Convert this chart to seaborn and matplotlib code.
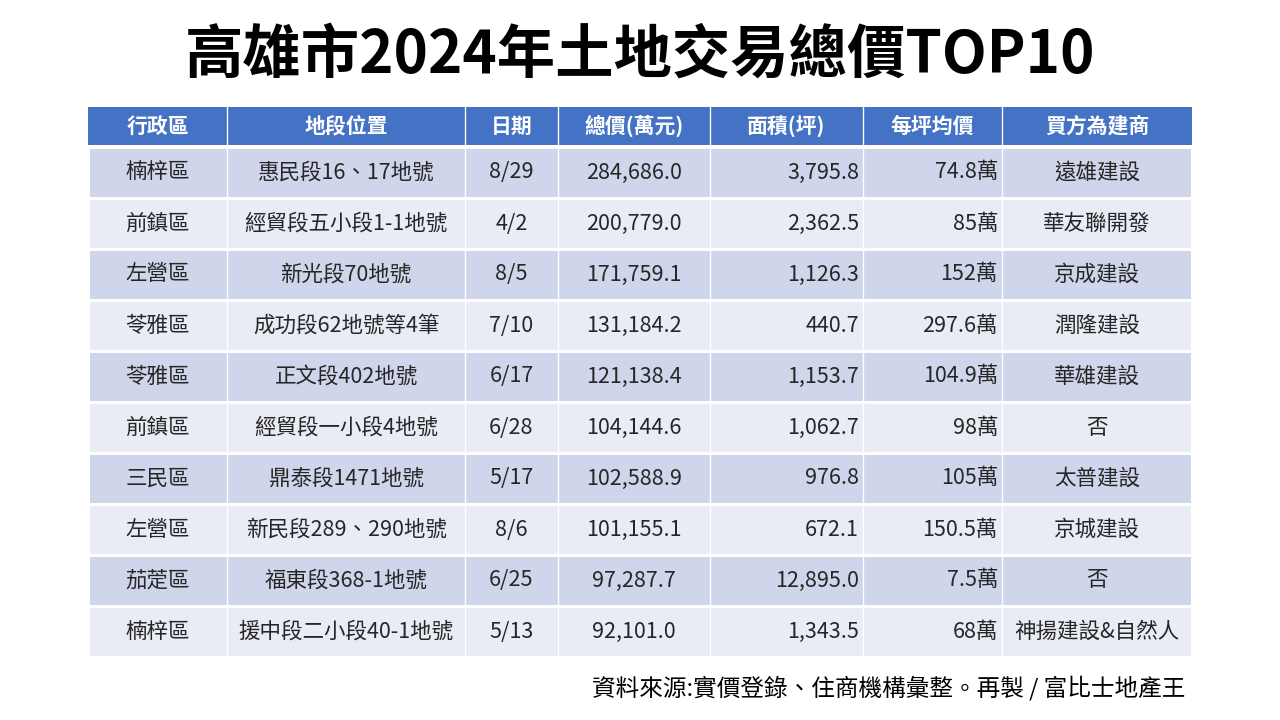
import numpy as np
import matplotlib.pyplot as plt
import seaborn as sns
from matplotlib.colors import ListedColormap

# table data
headers = ['行政區', '地段位置', '日期', '總價(萬元)', '面積(坪)', '每坪均價', '買方為建商']
districts = ['楠梓區', '前鎮區', '左營區', '苓雅區', '苓雅區', '前鎮區', '三民區', '左營區', '茄萣區', '楠梓區']
lots = ['惠民段16、17地號', '經貿段五小段1-1地號', '新光段70地號', '成功段62地號等4筆', '正文段402地號',
        '經貿段一小段4地號', '鼎泰段1471地號', '新民段289、290地號', '福東段368-1地號', '援中段二小段40-1地號']
dates = ['8/29', '4/2', '8/5', '7/10', '6/17', '6/28', '5/17', '8/6', '6/25', '5/13']
total_price = [284686.0, 200779.0, 171759.1, 131184.2, 121138.4, 104144.6, 102588.9, 101155.1, 97287.7, 92101.0]
area = [3795.8, 2362.5, 1126.3, 440.7, 1153.7, 1062.7, 976.8, 672.1, 12895.0, 1343.5]
unit_price = [74.8, 85, 152, 297.6, 104.9, 98, 105, 150.5, 7.5, 68]
buyers = ['遠雄建設', '華友聯開發', '京成建設', '潤隆建設', '華雄建設', '否', '太普建設', '京城建設', '否', '神揚建設&自然人']

sns.set_theme(style='white')
plt.rcParams['font.family'] = ['Noto Sans CJK TC', 'DejaVu Sans']

W, H = 1280, 720
fig = plt.figure(figsize=(12.8, 7.2), dpi=100)

def box(x0, y0, x1, y1):
    return [x0 / W, 1 - y1 / H, (x1 - x0) / W, (y1 - y0) / H]

# column edges in pixels, turned into fractions of the table width
col_px = [88, 227, 465, 558, 710, 863, 1002, 1192]
edges = [(c - col_px[0]) / (col_px[-1] - col_px[0]) for c in col_px]
aligns = ['center', 'center', 'center', 'center', 'right', 'right', 'center']
pad = 4 / (col_px[-1] - col_px[0])

# header band
ax_h = fig.add_axes(box(88, 107, 1192, 145))
sns.heatmap(np.zeros((1, 1)), cmap=ListedColormap(['#4472C4']), cbar=False, ax=ax_h)
ax_h.axis('off')
for e in edges[1:-1]:
    ax_h.axvline(e, color='white', lw=1)
for j, h in enumerate(headers):
    ax_h.text((edges[j] + edges[j + 1]) / 2, 0.5, h, ha='center', va='center',
              color='white', fontsize=15, fontweight='bold')

# body bands
n = len(districts)
bands = np.array([[i % 2] for i in range(n)])
ax_b = fig.add_axes(box(88, 147, 1192, 657))
sns.heatmap(bands, cmap=ListedColormap(['#CFD5EA', '#E9EBF5']), cbar=False,
            linewidths=1, linecolor='white', ax=ax_b)
ax_b.axis('off')
for e in edges[1:-1]:
    ax_b.axvline(e, color='white', lw=1)

for i in range(n):
    row = [districts[i], lots[i], dates[i], f'{total_price[i]:,.1f}', f'{area[i]:,.1f}',
           f'{unit_price[i]:g}萬', buyers[i]]
    for j, val in enumerate(row):
        if aligns[j] == 'right':
            x = edges[j + 1] - pad
        else:
            x = (edges[j] + edges[j + 1]) / 2
        ax_b.text(x, i + 0.5, val, ha=aligns[j], va='center', color='#262626', fontsize=15.5)

fig.text(0.5, 1 - 56 / H, '高雄市2024年土地交易總價TOP10', ha='center', va='center',
         fontsize=42, fontweight='bold', color='black')
fig.text(1185 / W, 1 - 688 / H, '資料來源:實價登錄、住商機構彙整。再製 / 富比士地產王',
         ha='right', va='center', fontsize=17, color='black')

fig.savefig('out.png', dpi=100)
